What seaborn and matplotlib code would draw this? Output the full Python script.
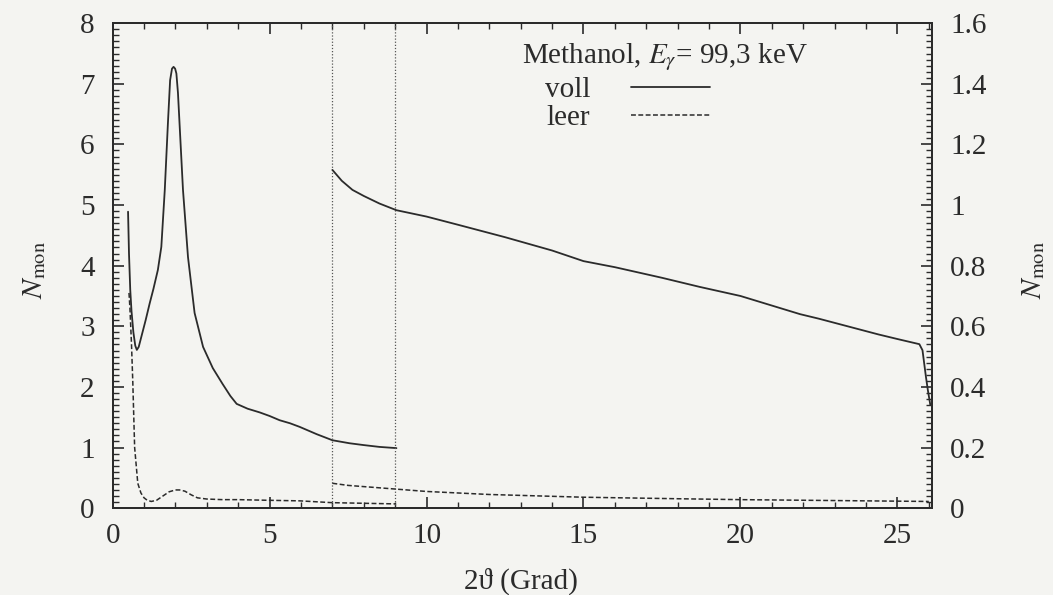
import matplotlib
matplotlib.use("Agg")
import matplotlib.pyplot as plt
from matplotlib.ticker import MultipleLocator
import seaborn as sns

# voll (filled), left segment, left axis
voll_l_x = [0.49, 0.52, 0.56, 0.60, 0.66, 0.72, 0.77, 0.83, 0.95, 1.05, 1.18, 1.30, 1.44, 1.55, 1.66,
            1.76, 1.83, 1.89, 1.94, 1.99, 2.03, 2.08, 2.13, 2.24, 2.40, 2.61, 2.88, 3.19, 3.50, 3.75,
            3.95, 4.30, 4.68, 5.00, 5.32, 5.65, 5.96, 6.50, 7.00, 7.55, 8.00, 8.50, 9.04]
voll_l_y = [4.89, 4.20, 3.60, 3.25, 2.90, 2.68, 2.61, 2.66, 2.90, 3.10, 3.38, 3.62, 3.93, 4.31, 5.25,
            6.35, 7.06, 7.25, 7.28, 7.25, 7.17, 6.85, 6.35, 5.25, 4.14, 3.22, 2.66, 2.31, 2.05, 1.85,
            1.72, 1.64, 1.58, 1.52, 1.45, 1.40, 1.34, 1.22, 1.12, 1.07, 1.04, 1.01, 0.99]

# leer (empty), left segment, left axis
leer_l_x = [0.52, 0.55, 0.60, 0.64, 0.70, 0.80, 0.90, 1.00, 1.10, 1.23, 1.40, 1.60, 1.80, 2.00, 2.13,
            2.30, 2.50, 2.70, 3.00, 3.50, 4.00, 4.90, 5.96, 7.00, 8.00, 9.00]
leer_l_y = [3.55, 3.30, 2.70, 2.10, 1.00, 0.41, 0.25, 0.17, 0.13, 0.11, 0.13, 0.20, 0.27, 0.30, 0.30,
            0.28, 0.22, 0.17, 0.15, 0.14, 0.14, 0.13, 0.12, 0.09, 0.08, 0.07]

# voll, right segment, right axis
voll_r_x = [7.00, 7.30, 7.64, 8.00, 8.50, 9.04, 10.0, 11.0, 12.5, 14.0, 15.0, 16.0, 17.5, 18.7, 20.0,
            21.9, 22.5, 24.4, 25.0, 25.7, 25.8, 25.91, 25.97, 26.05]
voll_r_y = [1.116, 1.08, 1.05, 1.03, 1.005, 0.983, 0.962, 0.935, 0.894, 0.850, 0.815, 0.795, 0.760,
            0.730, 0.700, 0.640, 0.625, 0.573, 0.558, 0.541, 0.521, 0.433, 0.39, 0.34]

# leer, right segment, right axis
leer_r_x = [7.0, 7.5, 9.0, 10.0, 12.0, 15.0, 18.0, 20.0, 22.0, 25.0, 26.0]
leer_r_y = [0.082, 0.075, 0.063, 0.055, 0.045, 0.036, 0.031, 0.028, 0.026, 0.023, 0.022]

cut_x = [7, 9]

sns.set_theme(style="ticks")
plt.rcParams["font.family"] = ["Liberation Serif", "DejaVu Serif"]
plt.rcParams["mathtext.fontset"] = "stix"

ink = "#2b2b2b"
paper = "#f4f4f1"
fs = 21

fig = plt.figure(figsize=(10.53, 5.95), dpi=100, facecolor=paper)
ax = fig.add_axes([0.107, 0.146, 0.778, 0.815])
ax.set_facecolor(paper)
ax2 = ax.twinx()

dash = (3.2, 1.6)
sns.lineplot(x=voll_l_x, y=voll_l_y, ax=ax, color=ink, lw=1.3, estimator=None, sort=False)
sns.lineplot(x=leer_l_x, y=leer_l_y, ax=ax, color=ink, lw=1.1, estimator=None, sort=False,
             linestyle=(0, dash))
sns.lineplot(x=voll_r_x, y=voll_r_y, ax=ax2, color=ink, lw=1.3, estimator=None, sort=False)
sns.lineplot(x=leer_r_x, y=leer_r_y, ax=ax2, color=ink, lw=1.1, estimator=None, sort=False,
             linestyle=(0, dash))

for xc in cut_x:
    ax.axvline(xc, color="#555555", lw=0.9, linestyle=(0, (1, 1.5)))

ax.set_xlim(0, 26.1)
ax.set_ylim(0, 8)
ax2.set_ylim(0, 1.6)

ax.xaxis.set_major_locator(MultipleLocator(5))
ax.xaxis.set_minor_locator(MultipleLocator(1))
ax.yaxis.set_major_locator(MultipleLocator(1))
ax.yaxis.set_minor_locator(MultipleLocator(0.1))
ax2.yaxis.set_major_locator(MultipleLocator(0.2))
ax2.yaxis.set_minor_locator(MultipleLocator(0.02))

ax.tick_params(which="both", direction="in", top=True, right=False, colors=ink, labelsize=fs)
ax.tick_params(axis="y", pad=13)
ax.tick_params(axis="x", pad=11)
ax.tick_params(which="major", length=8, width=1.2)
ax.tick_params(which="minor", length=4, width=1.0)
ax2.tick_params(which="both", direction="in", colors=ink, labelsize=fs, pad=13)
ax2.tick_params(which="major", length=8, width=1.2)
ax2.tick_params(which="minor", length=4, width=1.0)
ax2.set_yticks([0, 0.2, 0.4, 0.6, 0.8, 1.0, 1.2, 1.4, 1.6])
ax2.set_yticklabels(["0", "0.2", "0.4", "0.6", "0.8", "1", "1.2", "1.4", "1.6"])

for a in (ax, ax2):
    for s in a.spines.values():
        s.set_color(ink)
        s.set_linewidth(1.4)

ax.set_xlabel("2ϑ (Grad)", fontsize=fs, color=ink)
ax.set_ylabel(r"$N_{\mathrm{mon}}$", fontsize=fs, color=ink)
ax2.set_ylabel(r"$N_{\mathrm{mon}}$", fontsize=fs, color=ink)
ax.xaxis.set_label_coords(0.498, -0.122)
ax.yaxis.set_label_coords(-0.079, 0.49)
ax2.yaxis.set_label_coords(1.108, 0.49)

ax2.text(0.4994, 0.9175, r"Methanol, $E_{\gamma}$= 99,3 keV", transform=ax2.transAxes,
         fontsize=fs, color=ink, ha="left", va="baseline")

h_voll = ax2.lines[0]
h_leer = ax2.lines[1]
leg = ax2.legend([h_voll, h_leer], ["voll", "leer"], loc="upper left",
                 bbox_to_anchor=(0.5275, 0.89), frameon=False, markerfirst=False,
                 fontsize=fs, handlelength=2.7, handletextpad=1.4, labelspacing=0.05,
                 borderpad=0, borderaxespad=0)
for t in leg.get_texts():
    t.set_color(ink)

fig.savefig("out.png", dpi=100, facecolor=paper)
